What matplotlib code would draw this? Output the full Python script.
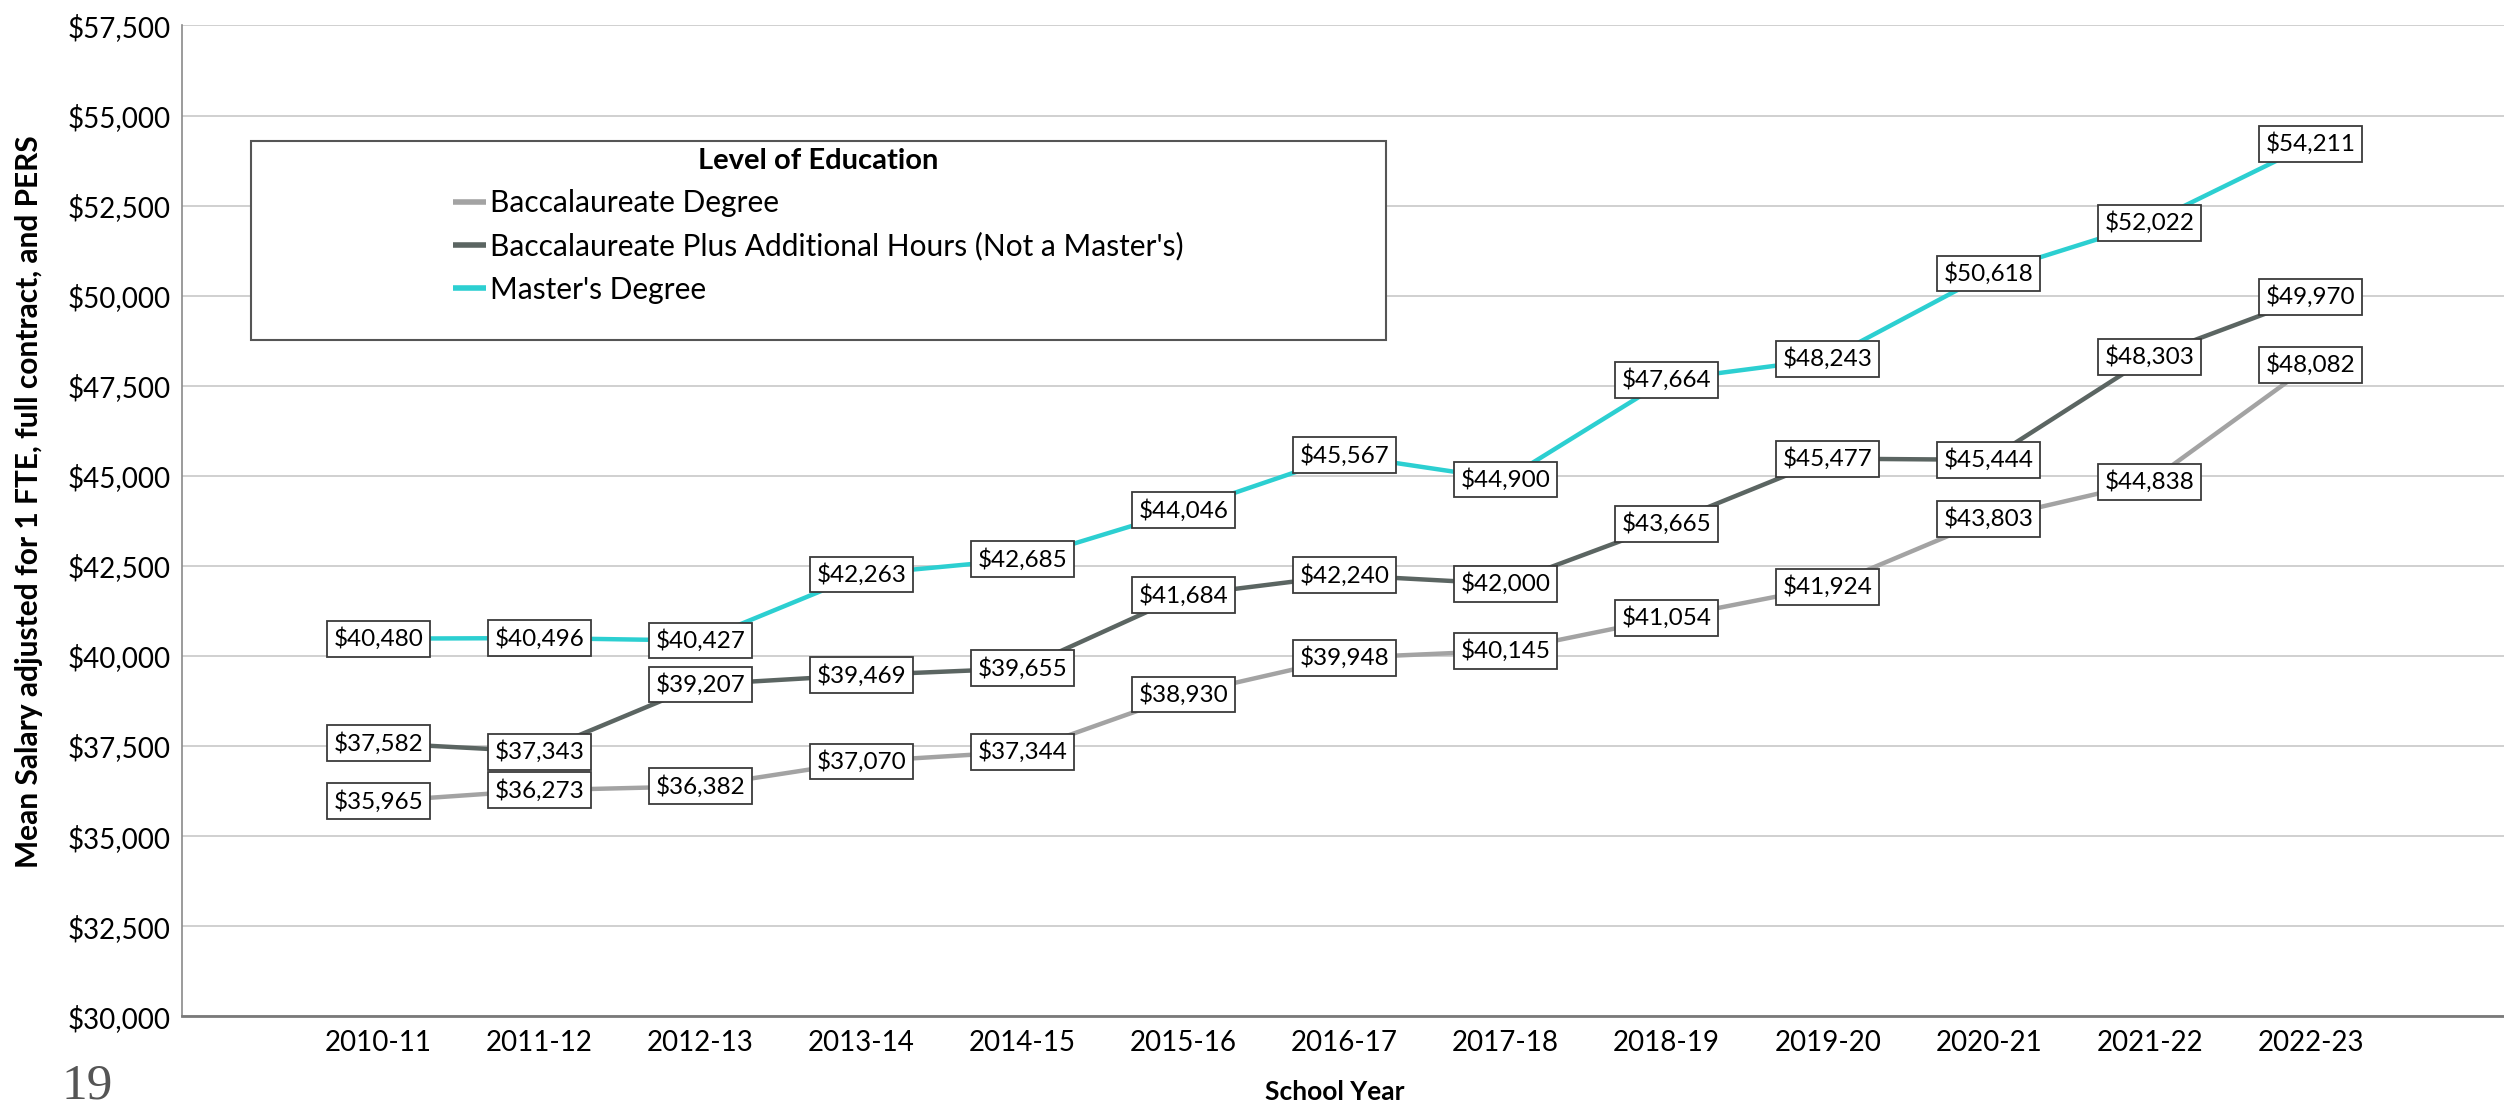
import matplotlib
matplotlib.use("Agg")
import matplotlib.pyplot as plt
from matplotlib.patches import Rectangle
from matplotlib.ticker import FuncFormatter, MultipleLocator

# ---- data ----
years = ["2010-11", "2011-12", "2012-13", "2013-14", "2014-15", "2015-16", "2016-17",
         "2017-18", "2018-19", "2019-20", "2020-21", "2021-22", "2022-23"]
bacc = [35965, 36273, 36382, 37070, 37344, 38930, 39948, 40145, 41054, 41924, 43803, 44838, 48082]
bacc_plus = [37582, 37343, 39207, 39469, 39655, 41684, 42240, 42000, 43665, 45477, 45444, 48303, 49970]
masters = [40480, 40496, 40427, 42263, 42685, 44046, 45567, 44900, 47664, 48243, 50618, 52022, 54211]

series_names = ["Baccalaureate Degree",
                "Baccalaureate Plus Additional Hours (Not a Master's)",
                "Master's Degree"]
series_colors = ["#a3a3a3", "#5b6562", "#2ccfd1"]

plt.rcParams['font.family'] = ['Lato', 'DejaVu Sans']

fig = plt.figure(figsize=(25.04, 11.07), dpi=100)
ax = fig.add_axes([0.0727, 0.082, 0.9273, 0.895])

x = list(range(len(years)))
for vals, name, col in zip([bacc, bacc_plus, masters], series_names, series_colors):
    ax.plot(x, vals, color=col, lw=3.2, label=name, zorder=2, solid_capstyle='butt')
    for xi, v in zip(x, vals):
        ax.text(xi, v, f"${v:,}", ha='center', va='center', fontsize=17.5, color='black',
                zorder=4,
                bbox=dict(boxstyle='square,pad=0.27', facecolor='white',
                          edgecolor='#3a3a3a', linewidth=1.3))

ax.set_xlim(-1.22, 13.2)
ax.set_ylim(30000, 57500)
ax.yaxis.set_major_locator(MultipleLocator(2500))
ax.yaxis.set_major_formatter(FuncFormatter(lambda v, p: f"${v:,.0f}"))
ax.set_xticks(x)
ax.set_xticklabels(years)
ax.tick_params(axis='both', length=0, labelsize=20)
ax.tick_params(axis='y', pad=8)
ax.tick_params(axis='x', pad=10)
ax.grid(axis='y', color='#c8c8c8', lw=1.2, zorder=0)
ax.set_axisbelow(True)
for s in ['top', 'right']:
    ax.spines[s].set_visible(False)
ax.spines['left'].set_color('#8a8a8a')
ax.spines['left'].set_linewidth(1.2)
ax.spines['bottom'].set_color('#7a7a7a')
ax.spines['bottom'].set_linewidth(2.0)

# legend with its own frame
ax.add_patch(Rectangle((0.0297, 0.6825), 0.4888, 0.2005, transform=ax.transAxes,
                       facecolor='white', edgecolor='#555555', lw=1.5, zorder=5))
leg = ax.legend(loc='upper center', bbox_to_anchor=(0.274, 0.876), frameon=False,
                title="Level of Education", fontsize=21.5, handlelength=1.1,
                handletextpad=0.12, labelspacing=0.5, borderpad=0, borderaxespad=0)
leg.get_title().set_fontweight('bold')
leg.get_title().set_fontsize(21)
leg.set_zorder(6)
for h in leg.get_lines():
    h.set_linewidth(4)

fig.text(0.0116, 0.547, "Mean Salary adjusted for 1 FTE, full contract, and PERS",
         rotation=90, ha='center', va='center', fontsize=21.5, fontweight='bold')
fig.text(0.533, 0.0136, "School Year", ha='center', va='center', fontsize=19,
         fontweight='bold')
fig.text(0.035, 0.019, "19", ha='center', va='center', fontsize=37,
         family='Liberation Serif', color='#555555')

fig.savefig("out.png", dpi=100)
